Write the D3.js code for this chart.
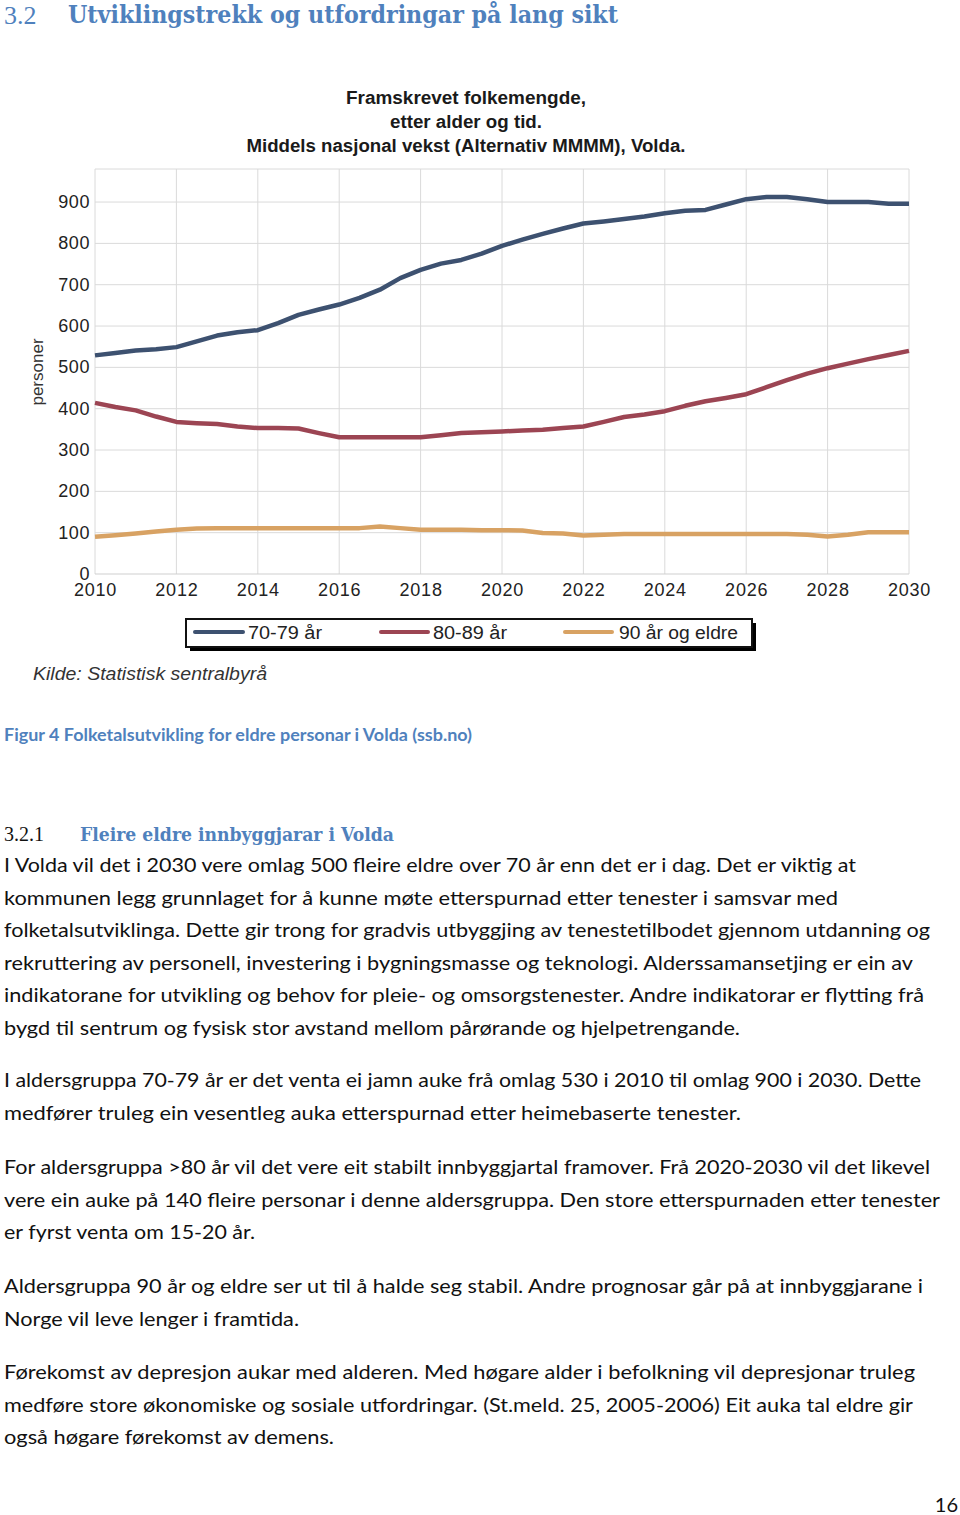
<!DOCTYPE html>
<html><head><meta charset="utf-8">
<script src="https://cdn.jsdelivr.net/npm/d3@7/dist/d3.min.js"></script>
<style>body{margin:0;background:#fff}svg{display:block}</style>
</head><body>
<script>
// ---- data ----
const years = [2010,2010.5,2011,2011.5,2012,2012.5,2013,2013.5,2014,2014.5,2015,2015.5,2016,2016.5,2017,2017.5,2018,2018.5,2019,2019.5,2020,2020.5,2021,2021.5,2022,2022.5,2023,2023.5,2024,2024.5,2025,2025.5,2026,2026.5,2027,2027.5,2028,2028.5,2029,2029.5,2030];
const age7079 = [529,535,541,544,549,563,577,585,590,607,627,640,652,668,688,716,736,751,760,775,794,809,823,836,848,853,859,865,873,879,881,894,907,912,912,907,900,900,900,896,896];
const age8089 = [414,404,396,381,368,365,363,357,353,353,352,341,331,331,331,331,331,336,341,343,345,347,349,353,357,368,380,386,394,407,418,426,435,452,469,485,498,509,520,530,540];
const age90 = [90,94,98,103,107,110,111,111,111,111,111,111,111,111,115,111,107,107,107,106,106,105,99,98,93,95,97,97,97,97,97,97,97,97,97,95,91,95,101,101,101];
const seriesNames = ["70-79 år","80-89 år","90 år og eldre"];
const seriesColors = ["#3d5170","#9c4553","#d8a263"];
const xTicks = [2010,2012,2014,2016,2018,2020,2022,2024,2026,2028,2030];
const yTicks = [0,100,200,300,400,500,600,700,800,900];
const chartTitle = ["Framskrevet folkemengde,","etter alder og tid.","Middels nasjonal vekst (Alternativ MMMM), Volda."];
const yLabel = "personer";
const source = "Kilde: Statistisk sentralbyrå";
const heading = ["3.2","Utviklingstrekk og utfordringar på lang sikt"];
const caption = "Figur 4 Folketalsutvikling for eldre personar i Volda (ssb.no)";
const subheading = ["3.2.1","Fleire eldre innbyggjarar i Volda"];
const paragraphs = [
 ["I Volda vil det i 2030 vere omlag 500 fleire eldre over 70 år enn det er i dag. Det er viktig at",
  "kommunen legg grunnlaget for å kunne møte etterspurnad etter tenester i samsvar med",
  "folketalsutviklinga. Dette gir trong for gradvis utbyggjing av tenestetilbodet gjennom utdanning og",
  "rekruttering av personell, investering i bygningsmasse og teknologi. Alderssamansetjing er ein av",
  "indikatorane for utvikling og behov for pleie- og omsorgstenester. Andre indikatorar er flytting frå",
  "bygd til sentrum og fysisk stor avstand mellom pårørande og hjelpetrengande."],
 ["I aldersgruppa 70-79 år er det venta ei jamn auke frå omlag 530 i 2010 til omlag 900 i 2030. Dette",
  "medfører truleg ein vesentleg auka etterspurnad etter heimebaserte tenester."],
 ["For aldersgruppa >80 år vil det vere eit stabilt innbyggjartal framover. Frå 2020-2030 vil det likevel",
  "vere ein auke på 140 fleire personar i denne aldersgruppa. Den store etterspurnaden etter tenester",
  "er fyrst venta om 15-20 år."],
 ["Aldersgruppa 90 år og eldre ser ut til å halde seg stabil. Andre prognosar går på at innbyggjarane i",
  "Norge vil leve lenger i framtida."],
 ["Førekomst av depresjon aukar med alderen. Med høgare alder i befolkning vil depresjonar truleg",
  "medføre store økonomiske og sosiale utfordringar. (St.meld. 25, 2005-2006) Eit auka tal eldre gir",
  "også høgare førekomst av demens."]
];
const paraEnds = [[856,838,930,913,924,740],[921,741],[930,940,255],[923,299],[915,913,334]];
const paraTops = [872,1087,1174,1293,1379];
const titleWidths = [240,152,439];

// ---- drawing ----
const W=960,H=1515;
const svg=d3.select("body").append("svg").attr("width",W).attr("height",H);
svg.append("rect").attr("width",W).attr("height",H).attr("fill","#fff");
const blue="#4f81bd";

// heading
svg.append("text").attr("x",4).attr("y",24).attr("font-family","Liberation Serif").attr("font-size",26).attr("fill",blue).text(heading[0]);
svg.append("text").attr("x",68).attr("y",23).attr("font-family","DejaVu Serif").attr("font-weight","bold").attr("font-size",24.5)
  .attr("fill",blue).attr("textLength",550).attr("lengthAdjust","spacingAndGlyphs").text(heading[1]);

// chart
const x=d3.scaleLinear().domain([2010,2030]).range([95,909]);
const y=d3.scaleLinear().domain([0,980]).range([574,169]);
const g=svg.append("g");
// grid
g.selectAll("line.h").data(yTicks.filter(d=>d>0).concat([980])).join("line")
  .attr("x1",x(2010)).attr("x2",x(2030)).attr("y1",d=>y(d)).attr("y2",d=>y(d)).attr("stroke","#dadada").attr("stroke-width",1);
g.selectAll("line.v").data(xTicks).join("line")
  .attr("x1",d=>x(d)).attr("x2",d=>x(d)).attr("y1",y(0)).attr("y2",y(980)).attr("stroke","#dadada").attr("stroke-width",1);
g.append("line").attr("x1",x(2010)).attr("x2",x(2030)).attr("y1",y(0)).attr("y2",y(0)).attr("stroke","#cfcfcf");

const yAxis=g.append("g").attr("transform",`translate(${x(2010)},0)`)
  .call(d3.axisLeft(y).tickValues(yTicks).tickSize(0).tickPadding(5).tickFormat(d3.format("d")));
yAxis.select(".domain").remove();
yAxis.selectAll("text").attr("font-family","Liberation Sans").attr("font-size",18).attr("fill","#222").attr("letter-spacing","0.6px").attr("dy","0.3em");
const xAxis=g.append("g").attr("transform",`translate(0,${y(0)})`)
  .call(d3.axisBottom(x).tickValues(xTicks).tickSize(0).tickPadding(9).tickFormat(d3.format("d")));
xAxis.select(".domain").remove();
xAxis.selectAll("text").attr("font-family","Liberation Sans").attr("font-size",18).attr("fill","#222").attr("letter-spacing","0.8px");

svg.append("text").attr("transform","translate(43,372) rotate(-90)").attr("text-anchor","middle")
  .attr("font-family","Liberation Sans").attr("font-size",17).attr("fill","#333").text(yLabel);

// title
chartTitle.forEach((t,i)=>{
  svg.append("text").attr("x",466).attr("y",104+i*24).attr("text-anchor","middle").attr("font-family","Liberation Sans")
    .attr("font-weight","bold").attr("font-size",17.5).attr("fill","#1a1a1a")
    .attr("textLength",titleWidths[i]).attr("lengthAdjust","spacingAndGlyphs").text(t);
});

// lines
const allSeries=[age7079,age8089,age90];
const line=d3.line().x((d,i)=>x(years[i])).y(d=>y(d));
allSeries.forEach((s,k)=>{
  g.append("path").datum(s).attr("d",line).attr("fill","none").attr("stroke",seriesColors[k]).attr("stroke-width",4.5).attr("stroke-linejoin","round");
});

// legend
svg.append("rect").attr("x",190).attr("y",623).attr("width",566).attr("height",28).attr("fill","#000");
svg.append("rect").attr("x",186).attr("y",619).attr("width",566).attr("height",28).attr("fill","#fff").attr("stroke","#111").attr("stroke-width",2);
const legX=[[195,243,248,74],[381,428,433,74],[565,612,619,119]];
seriesNames.forEach((n,k)=>{
  svg.append("line").attr("x1",legX[k][0]).attr("x2",legX[k][1]).attr("y1",632).attr("y2",632).attr("stroke",seriesColors[k]).attr("stroke-width",4).attr("stroke-linecap","round");
  svg.append("text").attr("x",legX[k][2]).attr("y",639).attr("font-family","Liberation Sans").attr("font-size",18).attr("fill","#222")
    .attr("textLength",legX[k][3]).attr("lengthAdjust","spacingAndGlyphs").text(n);
});
svg.append("text").attr("x",33).attr("y",680).attr("font-family","Liberation Sans").attr("font-style","italic").attr("font-size",18).attr("fill","#333")
  .attr("textLength",234).attr("lengthAdjust","spacingAndGlyphs").text(source);

// caption
svg.append("text").attr("x",4).attr("y",741).attr("font-family","Lato").attr("font-weight","bold").attr("font-size",16.5)
  .attr("fill",blue).attr("textLength",468).attr("lengthAdjust","spacingAndGlyphs").text(caption);

// subheading
svg.append("text").attr("x",4).attr("y",841).attr("font-family","Liberation Serif").attr("font-size",20).attr("fill","#111").text(subheading[0]);
svg.append("text").attr("x",80).attr("y",841).attr("font-family","DejaVu Serif").attr("font-weight","bold").attr("font-size",18.5)
  .attr("fill",blue).attr("textLength",314).attr("lengthAdjust","spacingAndGlyphs").text(subheading[1]);

// paragraphs
paragraphs.forEach((p,pi)=>{
  p.forEach((ln,li)=>{
    svg.append("text").attr("x",4).attr("y",paraTops[pi]+li*32.6).attr("font-family","Lato").attr("font-size",20).attr("fill","#111")
      .attr("textLength",paraEnds[pi][li]-4).attr("lengthAdjust","spacingAndGlyphs").text(ln);
  });
});
svg.append("text").attr("x",958).attr("y",1512).attr("text-anchor","end").attr("font-family","Lato").attr("font-size",20).attr("fill","#111").text("16");
</script>
</body></html>
